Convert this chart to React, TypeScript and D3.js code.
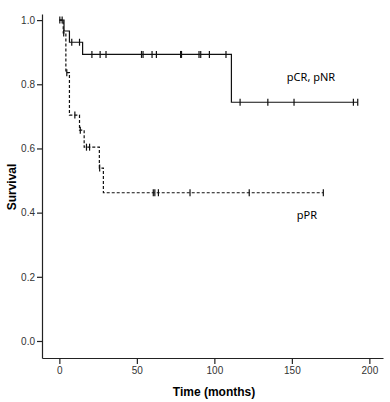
import React, { useEffect, useRef } from 'react';
import * as d3 from 'd3';

// pCR, pNR group (solid line)
const solidTimes = [0, 3, 6.5, 15, 111];
const solidSurv = [1.0, 0.966, 0.931, 0.893, 0.744];
const solidEnd = 192.5;
const solidCensor = [0.3, 1.8, 8, 13, 21, 26.3, 30.1, 53, 54, 59.8, 62.6, 78.2, 78.8,
    90.1, 91.2, 96.8, 107.5, 116.6, 134.5, 151.4, 189.7, 192.5];

// pPR group (dashed line)
const dashTimes = [0, 2.5, 4.2, 6.5, 13, 16, 25.8, 28.4];
const dashSurv = [1.0, 0.96, 0.836, 0.704, 0.657, 0.604, 0.539, 0.462];
const dashEnd = 170.3;
const dashCensor = [2.8, 4.8, 10, 13.5, 17.5, 19.5, 26, 60.6, 61.6, 63.9, 84.3, 122.5, 170.3];

const xTicks = [0, 50, 100, 150, 200];
const yTicks = [0, 0.2, 0.4, 0.6, 0.8, 1.0];

const survAt = (times: number[], surv: number[], t: number) => {
    let s = surv[0];
    times.forEach((tt, i) => { if (tt <= t) s = surv[i]; });
    return s;
};

const App = () => {
    const ref = useRef<SVGSVGElement>(null);

    useEffect(() => {
        const svg = d3.select(ref.current);
        svg.selectAll('*').remove();

        //scales
        const x = d3.scaleLinear().domain([-11.2, 208.8]).range([42, 383]);
        const y = d3.scaleLinear().domain([-0.053, 1.019]).range([358, 14]);

        //x axis
        const gx = svg.append('g')
            .attr('transform', 'translate(0,358)')
            .call(d3.axisBottom(x).tickValues(xTicks).tickSize(6).tickSizeOuter(0).tickPadding(3));
        gx.select('.domain').attr('stroke', '#222').attr('stroke-width', 1.2);
        gx.selectAll('.tick line').attr('stroke', '#222').attr('stroke-width', 1.2);
        gx.selectAll('.tick text').attr('fill', '#333')
            .style('font-family', 'Liberation Sans, Arial, sans-serif').style('font-size', '10px');

        //y axis
        const gy = svg.append('g')
            .attr('transform', 'translate(42,0)')
            .call(d3.axisLeft(y).tickValues(yTicks).tickFormat(d3.format('.1f')).tickSize(5).tickSizeOuter(0).tickPadding(2));
        gy.select('.domain').attr('stroke', '#222').attr('stroke-width', 1.2);
        gy.selectAll('.tick line').attr('stroke', '#222').attr('stroke-width', 1.2);
        gy.selectAll('.tick text').attr('fill', '#333')
            .style('font-family', 'Liberation Sans, Arial, sans-serif').style('font-size', '10px');

        //axis titles
        svg.append('text')
            .attr('x', 214).attr('y', 396)
            .attr('text-anchor', 'middle')
            .style('font-family', 'Liberation Sans, Arial, sans-serif')
            .style('font-size', '12px').style('font-weight', 'bold')
            .text('Time (months)');
        svg.append('text')
            .attr('transform', 'translate(16,187) rotate(-90)')
            .attr('text-anchor', 'middle')
            .style('font-family', 'Liberation Sans, Arial, sans-serif')
            .style('font-size', '12px').style('font-weight', 'bold')
            .text('Survival');

        const line = d3.line<[number, number]>()
            .x(d => x(d[0]))
            .y(d => y(d[1]))
            .curve(d3.curveStepAfter);

        const drawCurve = (times: number[], surv: number[], end: number, censor: number[], dash: string | null) => {
            const pts: [number, number][] = times.map((t, i) => [t, surv[i]]);
            pts.push([end, surv[surv.length - 1]]);
            svg.append('path')
                .datum(pts)
                .attr('fill', 'none')
                .attr('stroke', '#111')
                .attr('stroke-width', 1.2)
                .style('stroke-dasharray', dash)
                .attr('d', line);
            //censor marks
            svg.append('g').selectAll('line')
                .data(censor)
                .enter().append('line')
                .attr('x1', d => x(d)).attr('x2', d => x(d))
                .attr('y1', d => y(survAt(times, surv, d)) - 3.5)
                .attr('y2', d => y(survAt(times, surv, d)) + 3.5)
                .attr('stroke', '#111')
                .attr('stroke-width', 1.2);
        };

        drawCurve(solidTimes, solidSurv, solidEnd, solidCensor, null);
        drawCurve(dashTimes, dashSurv, dashEnd, dashCensor, '3,2');

        //curve labels
        svg.append('text').attr('x', 311).attr('y', 81)
            .attr('text-anchor', 'middle')
            .style('font-family', 'Noto Sans, sans-serif').style('font-size', '11px')
            .text('pCR, pNR');
        svg.append('text').attr('x', 307).attr('y', 219)
            .attr('text-anchor', 'middle')
            .style('font-family', 'Noto Sans, sans-serif').style('font-size', '11px')
            .text('pPR');
    }, []);

    return (
        <svg ref={ref} width={390} height={402}
            style={{ position: 'absolute', left: 0, top: 0, background: '#fff' }} />
    );
};

export default App;
